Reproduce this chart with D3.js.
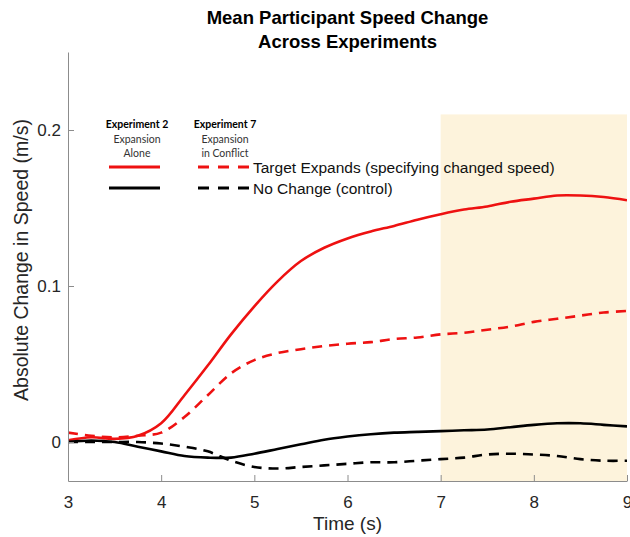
<!DOCTYPE html>
<html>
<head>
<meta charset="utf-8">
<script src="https://cdn.jsdelivr.net/npm/d3@7"></script>
<style>
  html, body { margin: 0; padding: 0; background: #fff; }
  svg { display: block; }
  .axis path, .axis line { stroke: #8c8c8c; }
  .axis text { fill: #262626; font-family: "Liberation Sans", Arial, sans-serif; font-size: 17px; }
</style>
</head>
<body>
<svg id="chart" width="630" height="537"></svg>
<script>
// Time samples (s)
const time = [3, 3.25, 3.5, 3.75, 4, 4.25, 4.5, 4.75, 5, 5.25, 5.5, 5.75, 6,
              6.25, 6.5, 6.75, 7, 7.25, 7.5, 7.75, 8, 8.25, 8.5, 8.75, 9];

// Experiment 2 (Expansion Alone) - target expands
const exp2Expand = [0.001, 0.003, 0.002, 0.004, 0.012, 0.030, 0.049, 0.069, 0.087, 0.103,
                    0.116, 0.1245, 0.1305, 0.135, 0.1385, 0.1425, 0.146, 0.149, 0.151, 0.154,
                    0.156, 0.158, 0.158, 0.157, 0.155];
// Experiment 2 - no change (control)
const exp2Control = [0.000, 0.001, 0.000, -0.003, -0.006, -0.009, -0.010, -0.010, -0.0075, -0.0045,
                     -0.0015, 0.0015, 0.0035, 0.005, 0.006, 0.0065, 0.007, 0.0075, 0.008, 0.0095,
                     0.011, 0.012, 0.012, 0.011, 0.010];
// Experiment 7 (Expansion in Conflict) - target expands
const exp7Expand = [0.006, 0.004, 0.003, 0.004, 0.006, 0.016, 0.030, 0.044, 0.0525, 0.057,
                    0.0595, 0.0615, 0.063, 0.064, 0.066, 0.067, 0.069, 0.070, 0.072, 0.074,
                    0.077, 0.079, 0.081, 0.083, 0.084];
// Experiment 7 - no change (control)
const exp7Control = [0.000, 0.000, 0.000, 0.000, -0.001, -0.003, -0.006, -0.012, -0.016, -0.017,
                     -0.016, -0.015, -0.014, -0.013, -0.013, -0.012, -0.011, -0.010, -0.008, -0.0075,
                     -0.008, -0.009, -0.011, -0.012, -0.012];

const xTicks = [3, 4, 5, 6, 7, 8, 9];
const yTicks = [0, 0.1, 0.2];
const yTickLabels = ["0", "0.1", "0.2"];
const highlightWindow = [7, 9];   // shaded time window (s)
const highlightTop = 0.21;

const svg = d3.select("#chart");
const plotLeft = 68, plotRight = 627, plotTop = 52, plotBottom = 481;

const x = d3.scaleLinear().domain([3, 9]).range([plotLeft, plotRight]);
const y = d3.scaleLinear().domain([-0.025, 0.25]).range([plotBottom, plotTop]);

svg.append("defs").append("clipPath").attr("id", "plotClip")
  .append("rect").attr("x", plotLeft).attr("y", plotTop)
  .attr("width", plotRight - plotLeft).attr("height", plotBottom - plotTop);

// Shaded window
svg.append("rect")
  .attr("x", x(highlightWindow[0]))
  .attr("y", y(highlightTop))
  .attr("width", x(highlightWindow[1]) - x(highlightWindow[0]))
  .attr("height", y(-0.025) - y(highlightTop))
  .attr("fill", "#fdf3dc");

// Series
const series = [
  { values: exp2Expand,  color: "#ee1111", dash: null },
  { values: exp7Expand,  color: "#ee1111", dash: "10,7" },
  { values: exp2Control, color: "#000000", dash: null },
  { values: exp7Control, color: "#000000", dash: "10,7" }
];

const line = d3.line()
  .x((d, i) => x(time[i]))
  .y(d => y(d))
  .curve(d3.curveCatmullRom.alpha(0.5));

const plot = svg.append("g").attr("clip-path", "url(#plotClip)");
series.forEach(s => {
  plot.append("path")
    .datum(s.values)
    .attr("d", line)
    .attr("fill", "none")
    .attr("stroke", s.color)
    .attr("stroke-width", 2.6)
    .attr("stroke-dasharray", s.dash);
});

// Axes (ticks point inward)
const xAxis = d3.axisBottom(x).tickValues(xTicks).tickFormat(d3.format("d"))
  .tickSizeInner(-6).tickSizeOuter(0).tickPadding(15);
const yAxis = d3.axisLeft(y).tickValues(yTicks)
  .tickFormat((d, i) => yTickLabels[i])
  .tickSizeInner(-6).tickSizeOuter(0).tickPadding(7);

svg.append("g").attr("class", "axis").attr("transform", `translate(0,${plotBottom})`).call(xAxis);
svg.append("g").attr("class", "axis").attr("transform", `translate(${plotLeft},0)`).call(yAxis);

// Axis labels
svg.append("text")
  .attr("x", (plotLeft + plotRight) / 2).attr("y", 530)
  .attr("text-anchor", "middle")
  .attr("font-family", "Liberation Sans, Arial, sans-serif")
  .attr("font-size", 19).attr("fill", "#262626")
  .text("Time (s)");

svg.append("text")
  .attr("transform", `translate(28,260) rotate(-90)`)
  .attr("text-anchor", "middle")
  .attr("font-family", "Liberation Sans, Arial, sans-serif")
  .attr("font-size", 19.5).attr("fill", "#262626")
  .text("Absolute Change in Speed (m/s)");

// Title
const title = svg.append("text")
  .attr("text-anchor", "middle")
  .attr("font-family", "Liberation Sans, Arial, sans-serif")
  .attr("font-size", 18.5).attr("font-weight", "bold").attr("fill", "#000");
title.append("tspan").attr("x", (plotLeft + plotRight) / 2).attr("y", 24).text("Mean Participant Speed Change");
title.append("tspan").attr("x", (plotLeft + plotRight) / 2).attr("y", 48).text("Across Experiments");

// Legend: column headers
const legendFont = "Lato, 'Open Sans', sans-serif";
const headers = [
  { cx: 137, lines: ["Experiment 2", "Expansion", "Alone"] },
  { cx: 225, lines: ["Experiment 7", "Expansion", "in Conflict"] }
];
headers.forEach(h => {
  h.lines.forEach((t, i) => {
    svg.append("text")
      .attr("x", h.cx).attr("y", 128 + i * 14.5)
      .attr("text-anchor", "middle")
      .attr("font-family", legendFont)
      .attr("font-size", 10.5)
      .attr("font-weight", i === 0 ? "bold" : "normal")
      .attr("fill", i === 0 ? "#000" : "#333")
      .text(t);
  });
});

// Legend rows
const legendRows = [
  { color: "#ee1111", label: "Target Expands (specifying changed speed)", yPos: 167 },
  { color: "#000000", label: "No Change (control)", yPos: 188 }
];
legendRows.forEach(r => {
  svg.append("line").attr("x1", 109).attr("x2", 160).attr("y1", r.yPos).attr("y2", r.yPos)
    .attr("stroke", r.color).attr("stroke-width", 3);
  svg.append("line").attr("x1", 198).attr("x2", 250).attr("y1", r.yPos).attr("y2", r.yPos)
    .attr("stroke", r.color).attr("stroke-width", 3).attr("stroke-dasharray", "11,9");
  svg.append("text").attr("x", 253).attr("y", r.yPos + 5.5)
    .attr("font-family", "Liberation Sans, Arial, sans-serif")
    .attr("font-size", 15.5).attr("fill", "#111")
    .text(r.label);
});
</script>
</body>
</html>
